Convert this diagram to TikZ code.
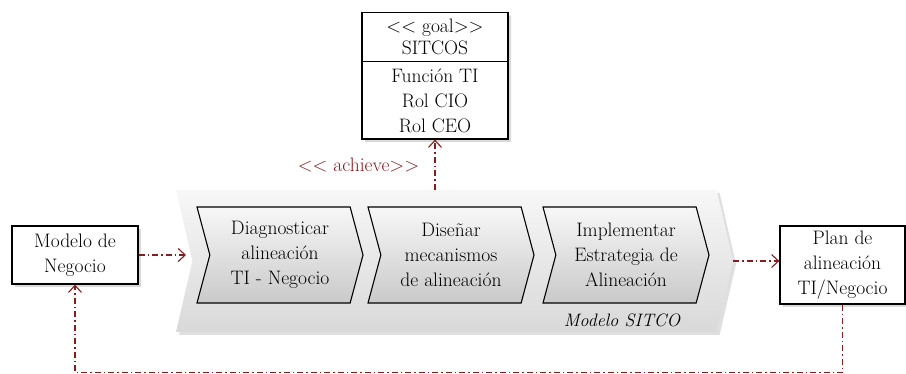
\documentclass[tikz,border=0pt]{standalone}
\usepackage{tikz}
\usetikzlibrary{shapes.symbols,shapes.multipart,shadows,arrows.meta,positioning}
\definecolor{achred}{RGB}{130,30,30}

\tikzset{
  box/.style={draw=black, line width=1.3pt, fill=white, align=center,
    drop shadow={shadow xshift=3pt, shadow yshift=-3pt, opacity=0.3}},
  chev/.style={signal, signal from=west, signal to=east, signal pointer angle=150,
    draw=black, line width=1.1pt, top color=gray!6, bottom color=gray!42,
    minimum width=166, minimum height=96, inner sep=0pt, align=center},
  sitcobg/.style={signal, signal from=west, signal to=east, signal pointer angle=154,
    top color=gray!6, bottom color=gray!30, minimum width=557, minimum height=142,
    drop shadow={shadow xshift=3pt, shadow yshift=-3pt, opacity=0.25}},
  dep/.style={achred, line width=1.1pt, dash pattern=on 6pt off 3pt on 1.5pt off 3pt,
    -{Straight Barb[length=7pt,width=13pt]}}
}

\begin{document}
\begin{tikzpicture}[x=1pt, y=-1pt, font=\fontsize{19.5}{25}\selectfont]
  \useasboundingbox (0,0) rectangle (906,374);

  % SITCO process
  \node[sitcobg] (sitco) at (454.5,261) {};
  \node[chev] (diag) at (280,255) {Diagnosticar\\alineación\\TI - Negocio};
  \node[chev] (dise) at (451,255) {Diseñar\\mecanismos\\de alineación};
  \node[chev] (impl) at (626,255) {Implementar\\Estrategia de\\Alineación};
  \node[font=\itshape\fontsize{18}{20}\selectfont] (sitcolbl) at (622,320) {Modelo SITCO};
  \coordinate (sitcoin) at (186,255);

  % goal
  \node[box, rectangle split, rectangle split parts=2, minimum width=146,
        inner ysep=6pt, anchor=north] (goal) at (435,12)
    {<\kern0pt< goal>\kern0pt>\\[-3pt]SITCOS
     \nodepart{two} Función TI\\Rol CIO\\Rol CEO};

  % input and output
  \node[box, minimum width=126, minimum height=58] (modelo) at (75,255) {Modelo de\\Negocio};
  \node[box, minimum width=125, minimum height=78] (plan) at (842.5,265) {Plan de\\alineación\\TI/Negocio};

  % dependencies
  \draw[dep] (modelo.east) -- (sitcoin);
  \draw[dep] (sitco.east) -- (plan.west |- sitco.east);
  \draw[dep] (goal.south |- sitco.north) -- node[left=12pt, text=achred] {<\kern0pt< achieve>\kern0pt>} (goal.south);
  \draw[dep] (plan.south) -- ++(0,68) -| (modelo.south);
\end{tikzpicture}
\end{document}
